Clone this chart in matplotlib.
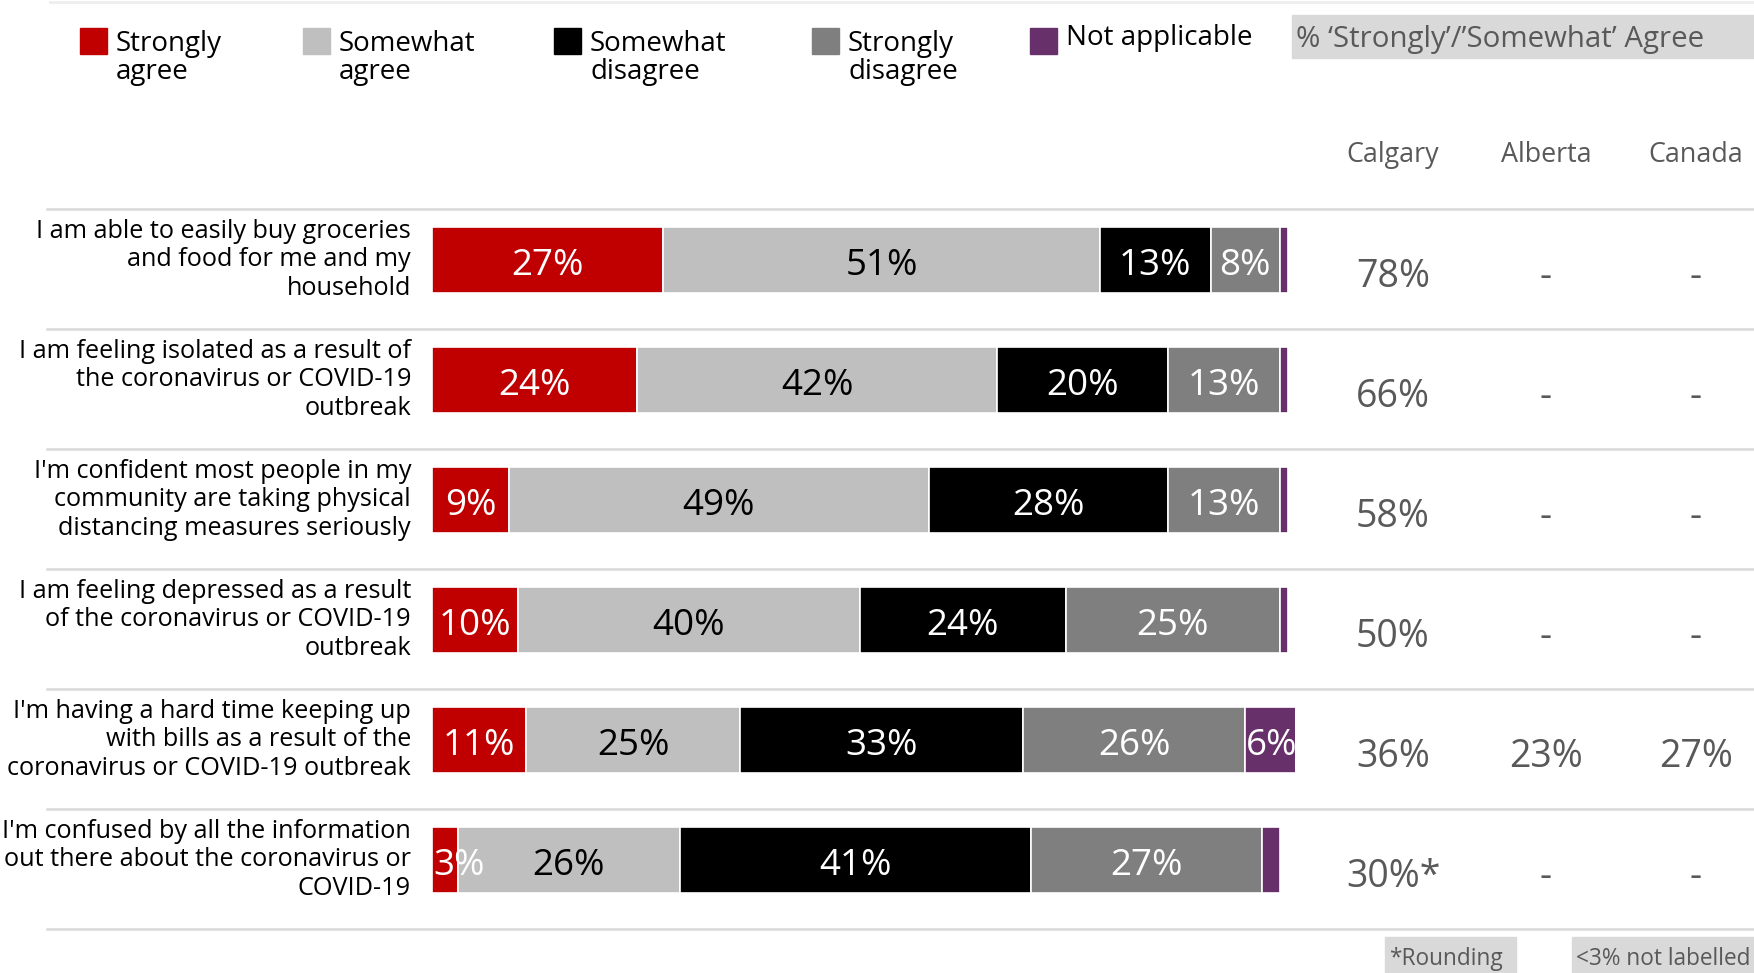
import numpy as np
import matplotlib.pyplot as plt
from matplotlib.patches import Rectangle
from matplotlib.lines import Line2D
from matplotlib.transforms import blended_transform_factory

plt.rcParams['font.family'] = ['Open Sans', 'DejaVu Sans']

W, H = 1754, 973

statements = [
    "I am able to easily buy groceries\nand food for me and my\nhousehold",
    "I am feeling isolated as a result of\nthe coronavirus or COVID-19\noutbreak",
    "I'm confident most people in my\ncommunity are taking physical\ndistancing measures seriously",
    "I am feeling depressed as a result\nof the coronavirus or COVID-19\noutbreak",
    "I'm having a hard time keeping up\nwith bills as a result of the\ncoronavirus or COVID-19 outbreak",
    "I'm confused by all the information\nout there about the coronavirus or\nCOVID-19",
]
categories = ['Strongly\nagree', 'Somewhat\nagree', 'Somewhat\ndisagree',
              'Strongly\ndisagree', 'Not applicable']
strongly_agree = [27, 24, 9, 10, 11, 3]
somewhat_agree = [51, 42, 49, 40, 25, 26]
somewhat_disagree = [13, 20, 28, 24, 33, 41]
strongly_disagree = [8, 13, 13, 25, 26, 27]
not_applicable = [1, 1, 1, 1, 6, 2]

regions = ['Calgary', 'Alberta', 'Canada']
calgary = ['78%', '66%', '58%', '50%', '36%', '30%*']
alberta = ['-', '-', '-', '-', '23%', '-']
canada = ['-', '-', '-', '-', '27%', '-']

colors = ['#c00000', '#bfbfbf', '#000000', '#7f7f7f', '#68306b']
label_colors = ['white', 'black', 'white', 'white', 'white']
grey_txt = '#595959'
line_col = '#d9d9d9'


def fx(px):
    return px / W


def fy(py):
    return 1 - py / H


fig = plt.figure(figsize=(W / 100, H / 100), dpi=100)
ax = fig.add_axes([fx(432), fy(920), 863 / W, 720 / H])
ax.set_xlim(0, 100.8)
ax.set_ylim(5.5, -0.5)
ax.axis('off')

blend = blended_transform_factory(fig.transFigure, ax.transData)

series = [strongly_agree, somewhat_agree, somewhat_disagree,
          strongly_disagree, not_applicable]
y = np.arange(len(statements))
left = np.zeros(len(statements))
for vals, c, lc in zip(series, colors, label_colors):
    vals = np.array(vals, dtype=float)
    ax.barh(y, vals, left=left, height=0.55, color=c,
            edgecolor='white', linewidth=1.2)
    for i in range(len(y)):
        v = vals[i]
        if v < 3:
            continue
        if v < 7:
            ax.text(left[i] + 0.1, y[i] + 0.05, f'{v:.0f}%', ha='left',
                    va='center', fontsize=26.5, color=lc, clip_on=True)
        else:
            ax.text(left[i] + v / 2, y[i] + 0.05, f'{v:.0f}%', ha='center',
                    va='center', fontsize=26.5, color=lc, clip_on=True)
    left += vals

# separators
for k in range(len(statements) + 1):
    yk = k - 0.425
    ax.plot([fx(47), 1], [yk, yk], transform=blend, color=line_col,
            lw=1.8, clip_on=False)
fig.add_artist(Line2D([fx(50), 1], [fy(1.5), fy(1.5)], color='#eeeeee', lw=2))

# statements
for i, s in enumerate(statements):
    ax.text(fx(411), i, s, transform=blend, ha='right', va='center',
            fontsize=18.2, linespacing=1.2, color='black')

# region table
col_x = [1393, 1546, 1696]
for cx, name, vals in zip(col_x, regions, [calgary, alberta, canada]):
    fig.text(fx(cx), fy(155), name, ha='center', va='center',
             fontsize=19.4, color=grey_txt)
    for i, v in enumerate(vals):
        ax.text(fx(cx), i + 0.14, v, transform=blend, ha='center',
                va='center', fontsize=27, color=grey_txt)

# legend
sq_x = [80, 303, 554, 812, 1030]
for sx, name, c in zip(sq_x, categories, colors):
    fig.add_artist(Rectangle((fx(sx), fy(54)), 27 / W, 26 / H,
                             transform=fig.transFigure, color=c))
    ty = 58 if '\n' in name else 38
    fig.text(fx(sx + 36), fy(ty), name, ha='left', va='center',
             fontsize=20, linespacing=1.02, color='black')

# header box
fig.add_artist(Rectangle((fx(1292), fy(58)), (W - 1292) / W, 43 / H,
                         transform=fig.transFigure, color='#d9d9d9'))
fig.text(fx(1296), fy(40), "% \u2018Strongly\u2019/\u2019Somewhat\u2019 Agree",
         ha='left', va='center', fontsize=21.2, color=grey_txt)

# footnotes
for x0, x1, t in [(1385, 1516, '*Rounding'), (1572, W, '<3% not labelled')]:
    fig.add_artist(Rectangle((fx(x0), 0), (x1 - x0) / W, 36 / H,
                             transform=fig.transFigure, color='#d9d9d9'))
    fig.text(fx(x0 + 4), fy(959), t, ha='left', va='center',
             fontsize=16.3, color=grey_txt)

fig.savefig('out.png', dpi=100)
